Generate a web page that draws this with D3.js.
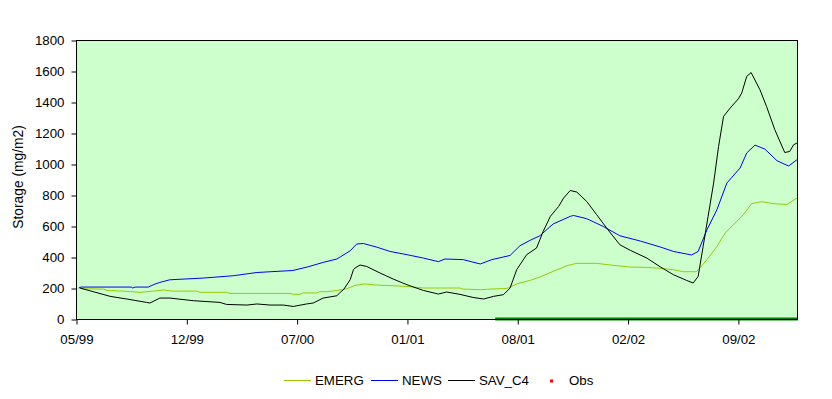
<!DOCTYPE html>
<html><head><meta charset="utf-8">
<script src="https://cdn.jsdelivr.net/npm/d3@7"></script>
<style>
body{margin:0;background:#fff;}
text{font-family:"Liberation Sans",Arial,sans-serif;fill:#000;}
</style></head>
<body><svg id="c" width="832" height="399"></svg>
<script>
// x = days since first tick (05/99); tick every 200 days
const xTickDays = [0,200,400,600,800,1000,1200];
const xTickLabels = ["05/99","12/99","07/00","01/01","08/01","02/02","09/02"];
const yTicks = [0,200,400,600,800,1000,1200,1400,1600,1800];

const emergDays = [10,50,56,86,116,140,158,176,219,225,273,279,388,394,406,412,436,442,455,473,491,506,524,545,575,606,630,696,702,733,751,781,799,823,841,865,890,908,944,975,1005,1035,1059,1083,1101,1125,1144,1162,1177,1192,1210,1225,1243,1264,1289,1307];
const emergVals = [195,193,184,180,172,180,187,180,180,172,172,165,165,159,159,168,168,176,176,184,195,217,226,219,215,208,200,200,193,189,193,197,226,249,271,307,344,359,359,346,335,333,327,318,305,305,383,468,555,608,673,744,757,744,739,780];

const newsDays = [5,9,100,103,107,131,143,152,170,230,285,328,393,419,448,473,479,497,509,521,545,569,600,630,657,669,702,733,754,787,805,823,841,865,896,902,926,956,986,1023,1059,1083,1116,1128,1144,1162,1180,1204,1216,1231,1249,1271,1292,1307];
const newsVals = [200,206,206,200,206,206,225,236,253,264,279,300,313,335,365,387,400,440,484,487,464,436,415,393,370,387,383,355,383,410,473,507,537,613,662,668,647,597,537,503,465,436,413,436,576,705,877,974,1071,1122,1096,1021,987,1027];

const savDays = [7,62,92,128,134,152,170,213,261,273,310,328,352,376,394,418,430,448,473,479,485,497,503,506,515,527,551,575,600,630,657,672,696,720,739,757,775,787,799,817,835,847,860,875,884,896,908,926,944,962,986,1005,1035,1059,1083,1107,1119,1128,1137,1146,1156,1165,1174,1186,1201,1207,1216,1224,1240,1252,1267,1285,1294,1301,1307];
const savVals = [200,146,129,107,103,135,135,118,107,94,90,97,90,90,81,97,103,135,150,172,189,253,318,329,348,339,297,258,221,184,161,174,159,139,129,146,157,200,318,415,458,565,662,726,780,829,819,758,673,587,479,443,393,337,286,249,232,275,468,662,877,1113,1307,1361,1421,1458,1565,1590,1479,1371,1221,1074,1081,1124,1135];

// dark-green band along the bottom
const obsDays = [760,1309];
const obsVals = [0,0];

const seriesNames = ["EMERG","NEWS","SAV_C4","Obs"];
const seriesColors = ["#99CC00","#0000FF","#000000","#FF0000"];

const svg = d3.select("#c");
const L=76, R=798, T=40, B=319;
const x = d3.scaleLinear().domain([0,1309]).range([L,R]);
const y = d3.scaleLinear().domain([0,1800]).range([B,T]);

svg.append("rect").attr("x",L).attr("y",T).attr("width",R-L).attr("height",B-T)
  .attr("fill","#CCFFCC").attr("stroke","none");

const line = d3.line().x(d=>x(d[0])).y(d=>y(d[1]));
function draw(days, vals, color, w){
  svg.append("path").datum(days.map((d,i)=>[d,vals[i]]))
    .attr("d",line).attr("fill","none").attr("stroke",color).attr("stroke-width",w)
    .attr("stroke-linejoin","round");
}
draw(emergDays, emergVals, seriesColors[0], 1);
draw(newsDays, newsVals, seriesColors[1], 1);
draw(savDays, savVals, seriesColors[2], 1);
draw(obsDays, obsVals, "#008000", 3);

svg.append("rect").attr("x",L+0.5).attr("y",T+0.5).attr("width",R-L-1).attr("height",B-T)
  .attr("fill","none").attr("stroke","#000").attr("stroke-width",1);

const xa = svg.append("g").attr("transform",`translate(0.5,${B+0.5})`)
  .call(d3.axisBottom(x).tickValues(xTickDays).tickFormat((d,i)=>xTickLabels[i]).tickSize(5).tickPadding(10));
const ya = svg.append("g").attr("transform",`translate(${L+0.5},0.5)`)
  .call(d3.axisLeft(y).tickValues(yTicks).tickFormat(d3.format("d")).tickSize(5).tickPadding(7));
[xa,ya].forEach(a=>{a.select(".domain").remove(); a.selectAll("text").style("font-size","13.3px").style("font-family","Liberation Sans, Arial, sans-serif");
  a.selectAll("line").attr("stroke","#000");});

svg.append("text").attr("transform",`translate(23,177) rotate(-90)`)
  .attr("text-anchor","middle").style("font-size","13.8px").text("Storage (mg/m2)");

// legend
const leg = [{x:284},{x:371},{x:448},{x:551}];
seriesNames.forEach((n,i)=>{
  const g = svg.append("g");
  if(i<3){
    g.append("line").attr("x1",leg[i].x).attr("x2",leg[i].x+27).attr("y1",380.5).attr("y2",380.5)
      .attr("stroke",seriesColors[i]).attr("stroke-width",1);
    g.append("text").attr("x",leg[i].x+31).attr("y",385).style("font-size","13.3px").text(n);
  } else {
    g.append("rect").attr("x",leg[i].x-1).attr("y",379.5).attr("width",3).attr("height",3).attr("fill",seriesColors[i]);
    g.append("text").attr("x",leg[i].x+18).attr("y",385).style("font-size","13.3px").text(n);
  }
});
</script></body></html>
